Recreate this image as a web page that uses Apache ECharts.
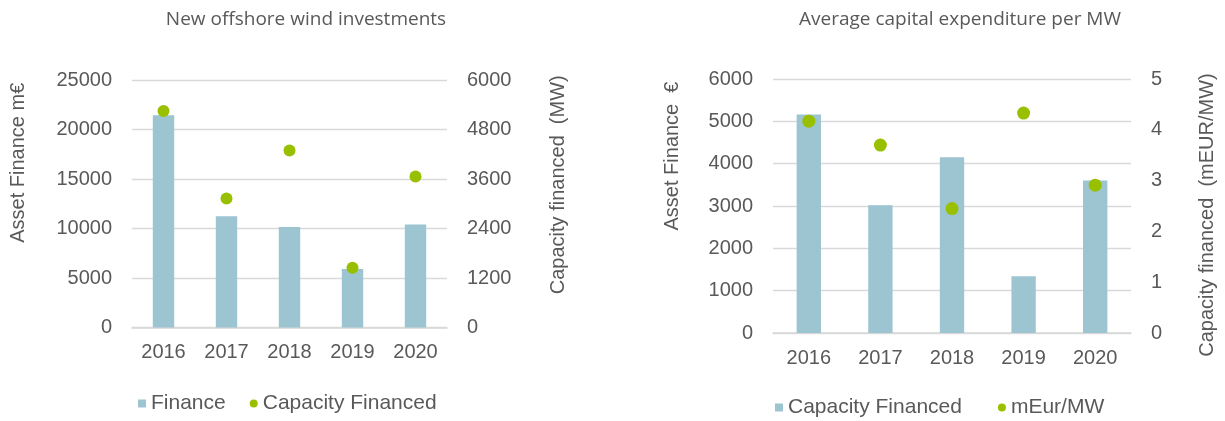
<!DOCTYPE html>
<html>
<head>
<meta charset="utf-8">
<script src="https://cdn.jsdelivr.net/npm/echarts@6/dist/echarts.min.js"></script>
<style>
html,body{margin:0;padding:0;background:#fff;}
#c1{position:absolute;left:0;top:0;width:612px;height:421px;}
#c2{position:absolute;left:612px;top:0;width:613px;height:421px;}
</style>
</head>
<body>
<div id="c1"></div>
<div id="c2"></div>
<script>
// ---- data ----
var years = ['2016', '2017', '2018', '2019', '2020'];
// Chart 1: New offshore wind investments
var financeMEur = [21450, 11250, 10150, 5900, 10400];
var capacityMW = [5250, 3130, 4290, 1450, 3660];
// Chart 2: Average capital expenditure per MW
var capacityFinanced = [5160, 3020, 4150, 1340, 3600];
var mEurPerMW = [4.17, 3.70, 2.45, 4.33, 2.91];
// tick settings
var leftTicks1 = {min: 0, max: 25000, interval: 5000};
var rightTicks1 = {min: 0, max: 6000, interval: 1200};
var leftTicks2 = {min: 0, max: 6000, interval: 1000};
var rightTicks2 = {min: 0, max: 5, interval: 1};

var TXT = '#595959';
var BAR = '#9cc4d1';
var DOT = '#99c000';
var GRID = '#d9d9d9';
var FONT = 'Liberation Sans, Arial, sans-serif';
var TFONT = 'Open Sans, sans-serif';

function valAxis(t, pos, name, gap, pad, showSplit) {
  return {
    type: 'value', position: pos, min: t.min, max: t.max, interval: t.interval,
    name: name, nameLocation: 'middle', nameRotate: 90, nameGap: gap,
    nameTextStyle: {color: TXT, fontSize: 20, fontFamily: FONT, padding: pad},
    axisLine: {show: false}, axisTick: {show: false},
    axisLabel: {color: TXT, fontSize: 20, fontFamily: FONT, margin: 20,
      formatter: function (v) { return String(v); }},
    splitLine: {show: showSplit, lineStyle: {color: GRID, width: 1.3}}
  };
}
function catAxis() {
  return {
    type: 'category', data: years,
    axisLine: {show: true, lineStyle: {color: GRID, width: 1.6}},
    axisTick: {show: false},
    axisLabel: {color: TXT, fontSize: 20, fontFamily: FONT, margin: 15}
  };
}

var c1 = echarts.init(document.getElementById('c1'));
c1.setOption({
  animation: false,
  title: {text: 'New offshore wind investments', left: 301, top: 5, textAlign: 'center',
    textStyle: {color: TXT, fontSize: 19, fontWeight: 'normal', fontFamily: TFONT}},
  grid: {left: 131, right: 165, top: 80, bottom: 93.5},
  legend: {left: 133, top: 388, itemWidth: 8, itemHeight: 8, itemGap: 24,
    textStyle: {color: TXT, fontSize: 21, fontFamily: FONT},
    data: [{name: 'Finance', icon: 'rect'}, {name: 'Capacity Financed', icon: 'circle'}]},
  xAxis: catAxis(),
  yAxis: [
    valAxis(leftTicks1, 'left', 'Asset Finance m€', 104, [0, 0, 0, 82], true),
    valAxis(rightTicks1, 'right', 'Capacity financed  (MW)', 101, [0, 0, 0, 38], false)
  ],
  series: [
    {name: 'Finance', type: 'bar', data: financeMEur, yAxisIndex: 0, barWidth: '34%',
      itemStyle: {color: BAR}},
    {name: 'Capacity Financed', type: 'scatter', data: capacityMW, yAxisIndex: 1, symbolSize: 12,
      itemStyle: {color: DOT, opacity: 1}}
  ]
});

var c2 = echarts.init(document.getElementById('c2'));
c2.setOption({
  animation: false,
  title: {text: 'Average capital expenditure per MW', left: 343, top: 5, textAlign: 'center',
    textStyle: {color: TXT, fontSize: 19, fontWeight: 'normal', fontFamily: TFONT}},
  grid: {left: 161, right: 88, top: 79, bottom: 88},
  legend: {left: 158, top: 392, itemWidth: 8, itemHeight: 8, itemGap: 36,
    textStyle: {color: TXT, fontSize: 21, fontFamily: FONT},
    data: [{name: 'Capacity Financed', icon: 'rect'}, {name: 'mEur/MW', icon: 'circle'}]},
  xAxis: catAxis(),
  yAxis: [
    valAxis(leftTicks2, 'left', 'Asset Finance  €', 91, [0, 0, 0, 100], true),
    valAxis(rightTicks2, 'right', 'Capacity financed  (mEUR/MW)', 66, [0, 18, 0, 0], false)
  ],
  series: [
    {name: 'Capacity Financed', type: 'bar', data: capacityFinanced, yAxisIndex: 0, barWidth: '34%',
      itemStyle: {color: BAR}},
    {name: 'mEur/MW', type: 'scatter', data: mEurPerMW, yAxisIndex: 1, symbolSize: 13,
      itemStyle: {color: DOT, opacity: 1}}
  ]
});
</script>
</body>
</html>
